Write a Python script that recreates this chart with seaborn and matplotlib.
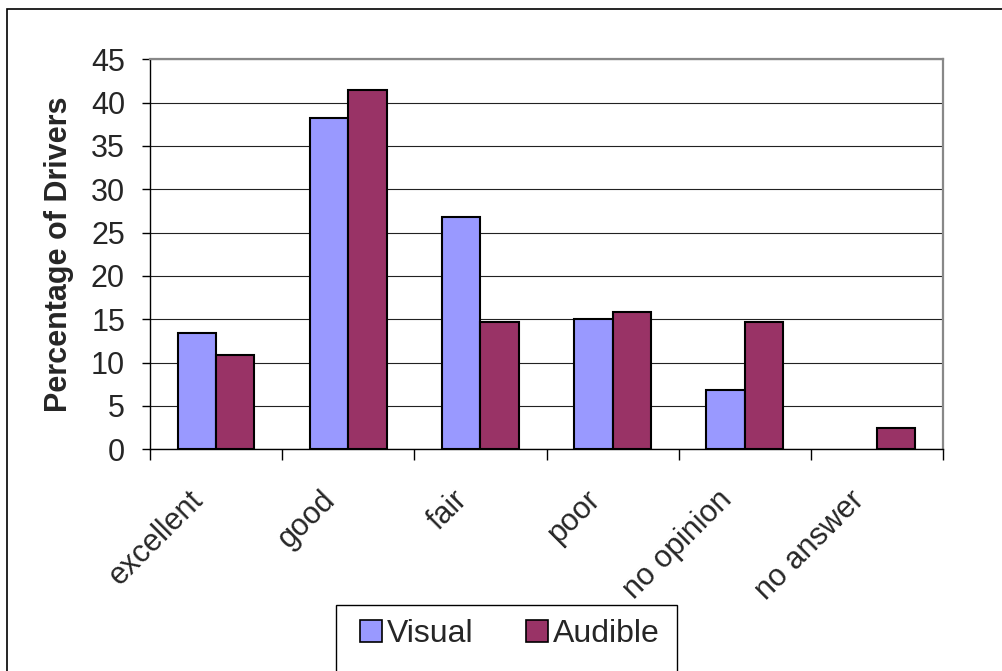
import matplotlib
matplotlib.use("Agg")
import matplotlib.pyplot as plt
from matplotlib.patches import Rectangle, Patch
from matplotlib.ticker import FixedLocator
from matplotlib.transforms import ScaledTranslation
import seaborn as sns
import pandas as pd

# Driver ratings by warning type (percent of drivers)
categories = ["excellent", "good", "fair", "poor", "no opinion", "no answer"]
visual = [13.4, 38.2, 26.8, 15.0, 6.8, 0.0]
audible = [10.9, 41.5, 14.7, 15.8, 14.7, 2.5]
series_names = ["Visual", "Audible"]
series_colors = ["#9999FF", "#993366"]
y_ticks = list(range(0, 50, 5))

df = pd.DataFrame({
    "category": categories * 2,
    "value": visual + audible,
    "series": [series_names[0]] * len(categories) + [series_names[1]] * len(categories),
})

sns.set_theme(style="white")
plt.rcParams["font.family"] = ["Liberation Sans", "DejaVu Sans"]

W, H = 1002, 671
fig = plt.figure(figsize=(W / 100, H / 100), dpi=100)
ax = fig.add_axes([150 / W, 1 - 449.3 / H, (943 - 150) / W, (449.3 - 59.3) / H])

sns.barplot(data=df, x="category", y="value", hue="series", order=categories,
            hue_order=series_names, palette=series_colors, width=0.58,
            edgecolor="black", linewidth=1.5, saturation=1, ax=ax, legend=False, zorder=3)

# empty bars get no outline
for bar in ax.patches:
    if bar.get_height() == 0:
        bar.set_linewidth(0)

ax.set_xlim(-0.5, len(categories) - 0.5)
ax.set_ylim(0, 45)
ax.set_yticks(y_ticks)
ax.yaxis.grid(True, color="#222222", linewidth=0.8, zorder=0)
ax.set_axisbelow(True)

for side in ["left", "bottom"]:
    ax.spines[side].set_color("black")
    ax.spines[side].set_linewidth(1.0)
for side in ["top", "right"]:
    ax.spines[side].set_color("#888888")
    ax.spines[side].set_linewidth(1.6)

ax.tick_params(axis="y", which="major", left=True, length=6, width=1, color="black",
               labelsize=22, pad=12)
ax.tick_params(axis="x", which="major", bottom=False, length=0, labelsize=22, pad=26)
ax.xaxis.set_minor_locator(FixedLocator([i - 0.5 for i in range(len(categories) + 1)]))
ax.tick_params(axis="x", which="minor", bottom=True, length=8, width=1, color="black")

ax.set_xticks(range(len(categories)))
ax.set_xticklabels(categories, rotation=45, ha="right", va="center", rotation_mode="anchor")
shift = ScaledTranslation(-17 / 100, -10 / 100, fig.dpi_scale_trans)
for lbl in ax.get_xticklabels():
    lbl.set_transform(lbl.get_transform() + shift)
ax.set_xlabel("")
ax.set_ylabel("Percentage of Drivers", fontsize=22, fontweight="bold", labelpad=12)

# Legend box along the bottom edge
fig.patches.append(Rectangle((336 / W, -0.1), (677 - 336) / W, 0.1 + 1 - 605 / H,
                             transform=fig.transFigure, facecolor="white",
                             edgecolor="black", linewidth=1.0, zorder=1))
handles = [Patch(facecolor=c, edgecolor="black", linewidth=1.2) for c in series_colors]
fig.legend(handles, series_names, loc="center", bbox_to_anchor=(510 / W, 1 - 634 / H),
           ncol=2, frameon=False, fontsize=23, handlelength=0.68, handleheight=0.68,
           handletextpad=0.15, columnspacing=1.65)

# Outer chart frame
fig.patches.append(Rectangle((7 / W, -0.1), 1.2, 0.1 + 1 - 9 / H,
                             transform=fig.transFigure, fill=False,
                             edgecolor="black", linewidth=1.2, zorder=0))

fig.savefig("out.png", dpi=100, facecolor="white")
